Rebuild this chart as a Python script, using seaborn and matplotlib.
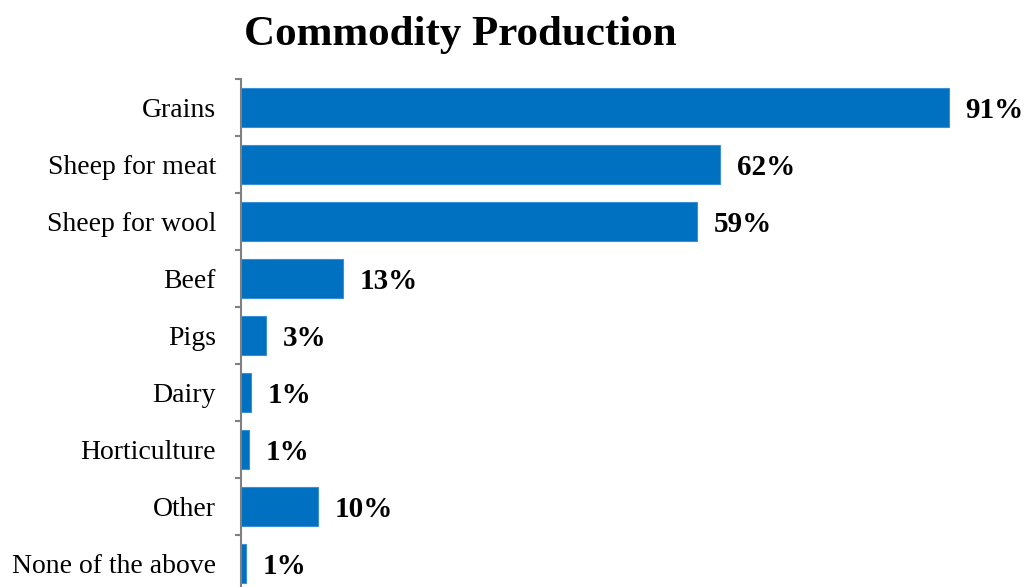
import matplotlib
matplotlib.use("Agg")
import matplotlib.pyplot as plt
import seaborn as sns
import pandas as pd
import numpy as np

categories = ["Grains", "Sheep for meat", "Sheep for wool", "Beef", "Pigs",
              "Dairy", "Horticulture", "Other", "None of the above"]
shares = [91.0, 61.6, 58.6, 13.1, 3.2, 1.3, 1.0, 9.9, 0.6]

df = pd.DataFrame({"category": categories, "share": shares})

sns.set_theme(style="white")
plt.rcParams["font.family"] = ["Liberation Serif", "DejaVu Serif"]

W, H = 1024, 587
fig = plt.figure(figsize=(W / 100, H / 100), dpi=100)
ax_left, ax_top, ax_w, row_h = 241, 79, 778, 57
ax_h = row_h * len(categories)
ax = fig.add_axes([ax_left / W, 1 - (ax_top + ax_h) / H, ax_w / W, ax_h / H])

bar_color = "#0070C0"
sns.barplot(data=df, x="share", y="category", orient="h", color=bar_color,
            width=0.68, saturation=1, edgecolor="#3a8fd6", linewidth=0.8, ax=ax)

ax.set_xlim(0, 100)
ax.set_ylim(len(categories) - 0.5, -0.5)
ax.set_xlabel("")
ax.set_ylabel("")
ax.set_xticks([])

for side in ("top", "right", "bottom"):
    ax.spines[side].set_visible(False)
ax.spines["left"].set_color("#808080")
ax.spines["left"].set_linewidth(1.5)

# category labels without tick marks, tick marks on category boundaries
ax.tick_params(axis="y", which="major", length=0, pad=18, labelsize=20,
               labelcolor="black")
ax.set_yticks(np.arange(-0.5, len(categories)), minor=True)
ax.tick_params(axis="y", which="minor", length=4.5, width=1.5, color="#808080",
               direction="out", left=True)

for i, v in enumerate(shares):
    ax.annotate(f"{round(v):d}%", xy=(v, i), xytext=(12, -2),
                textcoords="offset points", ha="left", va="center",
                fontsize=21, fontweight="bold", color="black")

fig.text(460 / W, 1 - 35 / H, "Commodity Production", ha="center", va="center",
         fontsize=31, fontweight="bold", color="black")

fig.savefig("out.png", dpi=100)
